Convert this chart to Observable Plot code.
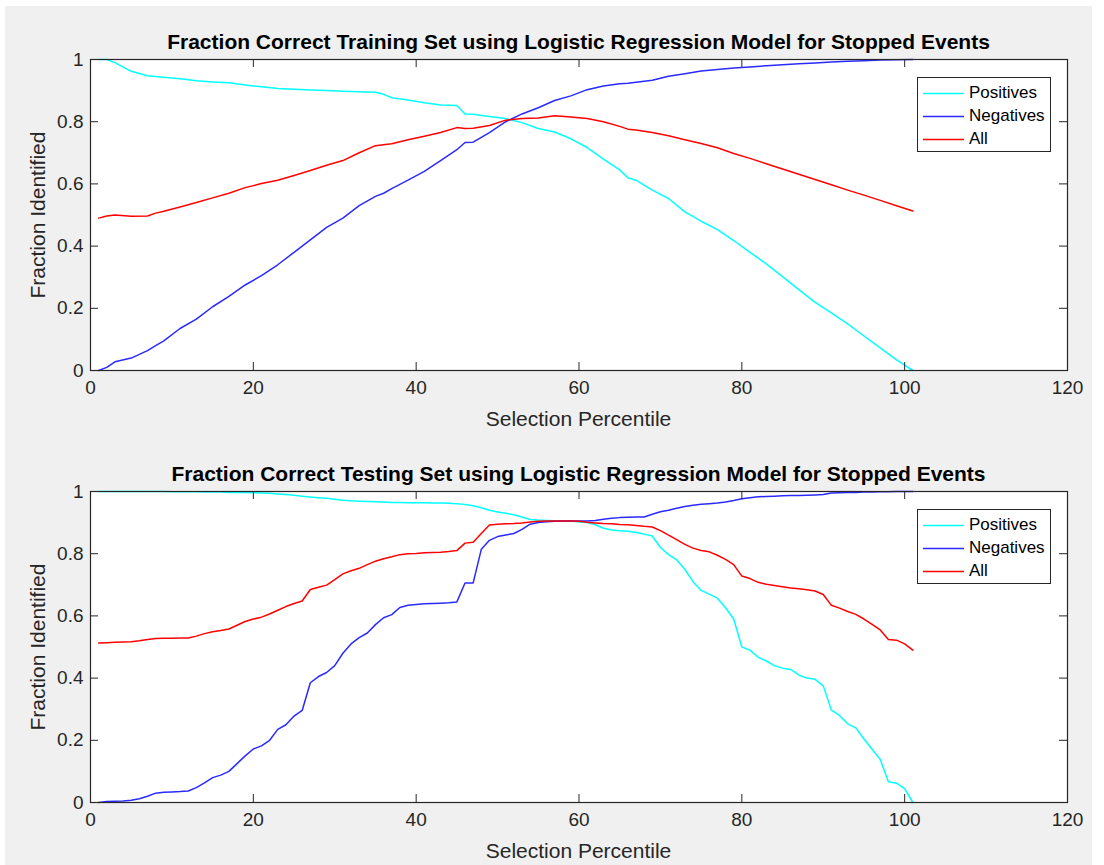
<!DOCTYPE html>
<html><head><meta charset="utf-8">
<script src="https://cdn.jsdelivr.net/npm/d3@7"></script>
<script src="https://cdn.jsdelivr.net/npm/@observablehq/plot@0.6"></script>
<style>
body{margin:0;background:#fff;font-family:"Liberation Sans",Arial,Helvetica,sans-serif;}
#fig{position:absolute;left:5px;top:6px;width:1087px;height:859px;background:#f0f0f0;}
.title{position:absolute;font-weight:bold;font-size:21px;color:#000;white-space:nowrap;transform:translate(-50%,-50%);}
.xlab{position:absolute;font-size:21px;color:#262626;white-space:nowrap;transform:translate(-50%,-50%);}
.ylab{position:absolute;font-size:21px;color:#262626;white-space:nowrap;transform:translate(-50%,-50%) rotate(-90deg);}
.legend{position:absolute;background:#fff;border:1px solid #262626;box-sizing:border-box;}
.legend .row{position:absolute;left:0;height:22px;font-size:17px;color:#000;line-height:22px;}
.legend svg{position:absolute;left:5px;top:0;}
.legend .tx{position:absolute;left:51px;top:0;white-space:nowrap;}
</style>
</head><body>
<div id="fig"></div>
<script>
// ---- data ----
const xTicks = [0, 20, 40, 60, 80, 100, 120];
const yTicks = [0, 0.2, 0.4, 0.6, 0.8, 1];
const seriesNames = ["Positives", "Negatives", "All"];
const seriesColors = ["#00ffff", "#2a2aff", "#ff0000"];

const trainX = [1,2,3,5,7,8,9,11,13,15,17,19,21,23,25,27,29,31,33,35,36,37,39,41,43,45,46,47,49,51,53,55,57,59,61,63,65,66,67,69,71,73,75,77,79,81,83,85,87,89,91,93,95,97,99,101];
const trainPositives = [1.0,1.0,0.99,0.962,0.948,0.945,0.943,0.938,0.932,0.928,0.925,0.918,0.912,0.907,0.904,0.902,0.9,0.898,0.896,0.895,0.888,0.877,0.87,0.861,0.854,0.852,0.825,0.824,0.817,0.81,0.797,0.778,0.767,0.745,0.717,0.68,0.645,0.62,0.612,0.58,0.553,0.51,0.48,0.453,0.418,0.38,0.343,0.302,0.26,0.219,0.185,0.15,0.111,0.073,0.034,0.0];
const trainNegatives = [0.0,0.01,0.028,0.04,0.064,0.08,0.095,0.135,0.165,0.205,0.238,0.275,0.305,0.34,0.38,0.42,0.46,0.49,0.53,0.56,0.57,0.585,0.612,0.64,0.675,0.71,0.733,0.734,0.765,0.8,0.825,0.845,0.868,0.883,0.903,0.915,0.922,0.924,0.927,0.933,0.946,0.954,0.963,0.968,0.973,0.976,0.98,0.983,0.986,0.989,0.992,0.994,0.996,0.998,0.999,1.0];
const trainAll = [0.49,0.497,0.5,0.496,0.497,0.506,0.512,0.526,0.54,0.555,0.57,0.588,0.601,0.612,0.627,0.643,0.66,0.675,0.7,0.723,0.726,0.729,0.742,0.753,0.765,0.781,0.778,0.779,0.788,0.805,0.81,0.812,0.819,0.815,0.81,0.8,0.785,0.776,0.773,0.765,0.755,0.742,0.73,0.716,0.698,0.682,0.665,0.648,0.631,0.614,0.597,0.58,0.564,0.547,0.53,0.513];

const testX = [1,2,3,4,5,6,7,8,9,10,11,12,13,14,15,16,17,18,19,20,21,22,23,24,25,26,27,28,29,30,31,32,33,34,35,36,37,38,39,40,41,42,43,44,45,46,47,48,49,50,51,52,53,54,55,56,57,58,59,60,61,62,63,64,65,66,67,68,69,70,71,72,73,74,75,76,77,78,79,80,81,82,83,84,85,86,87,88,89,90,91,92,93,94,95,96,97,98,99,100,101];
const testPositives = [1.0,1.0,1.0,1.0,1.0,1.0,1.0,1.0,1.0,0.999,0.999,0.999,0.999,0.998,0.998,0.998,0.997,0.997,0.997,0.996,0.995,0.994,0.992,0.99,0.988,0.985,0.982,0.98,0.978,0.975,0.972,0.97,0.969,0.968,0.967,0.966,0.965,0.965,0.964,0.964,0.964,0.963,0.963,0.962,0.961,0.958,0.954,0.948,0.94,0.934,0.93,0.925,0.918,0.91,0.908,0.907,0.906,0.905,0.905,0.902,0.9,0.893,0.882,0.876,0.874,0.872,0.868,0.863,0.857,0.82,0.797,0.78,0.75,0.71,0.682,0.67,0.657,0.626,0.59,0.5,0.49,0.467,0.455,0.44,0.432,0.428,0.41,0.4,0.396,0.375,0.297,0.28,0.253,0.24,0.204,0.171,0.138,0.067,0.062,0.045,0.0];
const testNegatives = [0.0,0.003,0.004,0.005,0.007,0.012,0.02,0.03,0.033,0.034,0.035,0.037,0.048,0.063,0.08,0.088,0.1,0.125,0.15,0.172,0.182,0.2,0.235,0.25,0.278,0.296,0.385,0.405,0.418,0.44,0.48,0.51,0.53,0.545,0.572,0.594,0.604,0.627,0.634,0.637,0.639,0.64,0.641,0.642,0.645,0.706,0.706,0.814,0.843,0.855,0.86,0.865,0.878,0.895,0.9,0.903,0.904,0.905,0.905,0.905,0.905,0.907,0.911,0.914,0.916,0.917,0.918,0.918,0.927,0.935,0.94,0.946,0.952,0.956,0.959,0.961,0.963,0.966,0.971,0.977,0.98,0.983,0.984,0.985,0.986,0.987,0.987,0.988,0.989,0.99,0.995,0.996,0.997,0.997,0.998,0.998,0.999,0.999,1.0,1.0,1.0];
const testAll = [0.513,0.514,0.515,0.516,0.517,0.52,0.524,0.527,0.528,0.528,0.529,0.529,0.535,0.543,0.549,0.553,0.558,0.57,0.582,0.59,0.596,0.606,0.618,0.63,0.64,0.648,0.685,0.692,0.699,0.717,0.735,0.745,0.753,0.765,0.776,0.784,0.79,0.797,0.8,0.801,0.803,0.804,0.805,0.807,0.81,0.834,0.837,0.865,0.892,0.895,0.896,0.897,0.899,0.902,0.904,0.905,0.905,0.905,0.905,0.904,0.901,0.899,0.897,0.896,0.894,0.893,0.891,0.888,0.886,0.874,0.86,0.845,0.83,0.818,0.81,0.806,0.795,0.782,0.765,0.728,0.72,0.708,0.702,0.698,0.694,0.69,0.687,0.684,0.68,0.669,0.634,0.625,0.614,0.605,0.59,0.573,0.555,0.524,0.522,0.51,0.49];

const panels = [
  {title: "Fraction Correct Training Set using Logistic Regression Model for Stopped Events",
   x: trainX, series: [trainPositives, trainNegatives, trainAll], top: 0},
  {title: "Fraction Correct Testing Set using Logistic Regression Model for Stopped Events",
   x: testX, series: [testPositives, testNegatives, testAll], top: 432}
];

// ---- layout ----
const W = 1104, H = 400, ML = 90, MR = 37, MT = 59, MB = 30;
const PW = W - ML - MR, PH = H - MT - MB;
const TICK = 8, INK = "#262626";
const SVGNS = "http://www.w3.org/2000/svg";

for (const p of panels) {
  const marks = [];
  p.series.forEach((vals, i) => {
    const rows = p.x.map((x, j) => ({x, y: vals[j]}));
    marks.push(Plot.line(rows, {x: "x", y: "y", stroke: seriesColors[i], strokeWidth: 1.5}));
  });
  marks.push(
    Plot.ruleX(xTicks, {x: d => d, insetTop: PH - TICK, stroke: INK}),
    Plot.ruleX(xTicks, {x: d => d, insetBottom: PH - TICK, stroke: INK}),
    Plot.ruleY(yTicks, {y: d => d, insetRight: PW - TICK, stroke: INK}),
    Plot.ruleY(yTicks, {y: d => d, insetLeft: PW - TICK, stroke: INK}),
    Plot.frame({stroke: INK, strokeWidth: 1.2}),
    Plot.axisX({ticks: xTicks, tickSize: 0, tickPadding: 10, label: null, fontSize: 19, color: INK, tickFormat: d => String(d)}),
    Plot.axisY({ticks: yTicks, tickSize: 0, tickPadding: 7, label: null, fontSize: 19, color: INK, tickFormat: d => String(d)})
  );
  const chart = Plot.plot({
    width: W, height: H,
    marginLeft: ML, marginRight: MR, marginTop: MT, marginBottom: MB,
    x: {domain: [0, 120]},
    y: {domain: [0, 1]},
    style: {background: "transparent", fontFamily: "'Liberation Sans', Arial, sans-serif", fontSize: "19px", color: INK, overflow: "visible"},
    marks
  });
  const bg = document.createElementNS(SVGNS, "rect");
  bg.setAttribute("x", ML); bg.setAttribute("y", MT);
  bg.setAttribute("width", PW); bg.setAttribute("height", PH);
  bg.setAttribute("fill", "#fff");
  chart.insertBefore(bg, chart.firstChild.nextSibling);
  chart.style.position = "absolute";
  chart.style.left = "0px";
  chart.style.top = p.top + "px";
  document.body.appendChild(chart);

  const cx = ML + PW / 2;
  const t = document.createElement("div");
  t.className = "title"; t.textContent = p.title;
  t.style.left = cx + "px"; t.style.top = (p.top + 42) + "px";
  document.body.appendChild(t);

  const xl = document.createElement("div");
  xl.className = "xlab"; xl.textContent = "Selection Percentile";
  xl.style.left = cx + "px"; xl.style.top = (p.top + 419) + "px";
  document.body.appendChild(xl);

  const yl = document.createElement("div");
  yl.className = "ylab"; yl.textContent = "Fraction Identified";
  yl.style.left = "38px"; yl.style.top = (p.top + MT + PH / 2) + "px";
  document.body.appendChild(yl);

  const lg = document.createElement("div");
  lg.className = "legend";
  lg.style.left = "917px"; lg.style.top = (p.top + 77) + "px";
  lg.style.width = "134px"; lg.style.height = "75px";
  seriesNames.forEach((name, i) => {
    const r = document.createElement("div");
    r.className = "row"; r.style.top = (4 + i * 23) + "px"; r.style.width = "130px";
    const sw = document.createElementNS(SVGNS, "svg");
    sw.setAttribute("width", "42"); sw.setAttribute("height", "22");
    const ln = document.createElementNS(SVGNS, "line");
    ln.setAttribute("x1", "0"); ln.setAttribute("x2", "41");
    ln.setAttribute("y1", "11.5"); ln.setAttribute("y2", "11.5");
    ln.setAttribute("stroke", seriesColors[i]); ln.setAttribute("stroke-width", "1.5");
    sw.appendChild(ln);
    const tx = document.createElement("div");
    tx.className = "tx"; tx.textContent = name;
    r.appendChild(sw); r.appendChild(tx);
    lg.appendChild(r);
  });
  document.body.appendChild(lg);
}
</script>
</body></html>
